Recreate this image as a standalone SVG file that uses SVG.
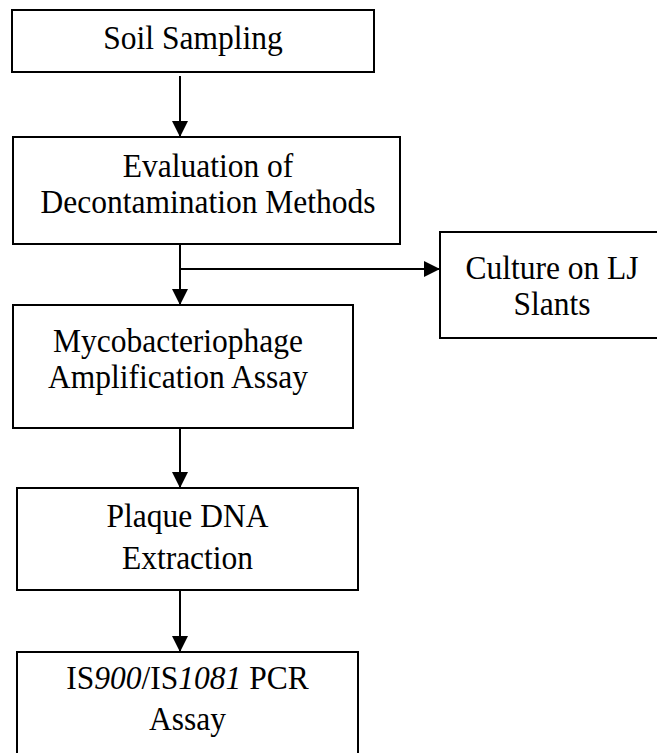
<svg xmlns="http://www.w3.org/2000/svg" width="657" height="753" viewBox="0 0 657 753">
<style>
.box{fill:#fff;stroke:#000;stroke-width:2}
.t{font-family:"Liberation Serif","Times New Roman",serif;font-size:31.5px;fill:#000;text-anchor:middle}
.c{stroke:#000;stroke-width:2;fill:none}
</style>
<defs>
<marker id="ah" markerWidth="16" markerHeight="16" refX="16" refY="8" orient="auto" markerUnits="userSpaceOnUse">
<path d="M0,0 L16,8 L0,16 Z" fill="#000"/>
</marker>
</defs>
<rect width="657" height="753" fill="#fff"/>
<g id="connectors">
<line class="c" x1="180" y1="76" x2="180" y2="137" marker-end="url(#ah)"/>
<line class="c" x1="180" y1="244" x2="180" y2="305" marker-end="url(#ah)"/>
<line class="c" x1="180" y1="269" x2="440" y2="269" marker-end="url(#ah)"/>
<line class="c" x1="180" y1="428" x2="180" y2="488" marker-end="url(#ah)"/>
<line class="c" x1="180" y1="590" x2="180" y2="652" marker-end="url(#ah)"/>
</g>
<g id="soil">
<rect class="box" x="12" y="10" width="362" height="62"/>
<text class="t" transform="translate(193,48.5) scale(1,1.1)">Soil Sampling</text>
</g>
<g id="decon">
<rect class="box" x="13" y="137" width="387" height="107"/>
<text class="t" transform="translate(208,177) scale(1,1.1)">Evaluation of</text>
<text class="t" transform="translate(208,213) scale(1,1.1)">Decontamination Methods</text>
</g>
<g id="culture">
<rect class="box" x="440" y="232" width="218" height="106"/>
<text class="t" transform="translate(552,279) scale(1,1.1)">Culture on LJ</text>
<text class="t" transform="translate(552,315) scale(1,1.1)">Slants</text>
</g>
<g id="phage">
<rect class="box" x="13" y="305" width="340" height="123"/>
<text class="t" transform="translate(178,352) scale(1,1.1)">Mycobacteriophage</text>
<text class="t" transform="translate(178,388) scale(1,1.1)">Amplification Assay</text>
</g>
<g id="plaque">
<rect class="box" x="17" y="488" width="341" height="102"/>
<text class="t" transform="translate(187.5,527) scale(1,1.1)">Plaque DNA</text>
<text class="t" transform="translate(187.5,569) scale(1,1.1)">Extraction</text>
</g>
<g id="pcr">
<rect class="box" x="17" y="652" width="341" height="120"/>
<text class="t" transform="translate(187.5,689) scale(1,1.1)">IS<tspan font-style="italic">900</tspan>/IS<tspan font-style="italic">1081</tspan> PCR</text>
<text class="t" transform="translate(187.5,730) scale(1,1.1)">Assay</text>
</g>
</svg>
